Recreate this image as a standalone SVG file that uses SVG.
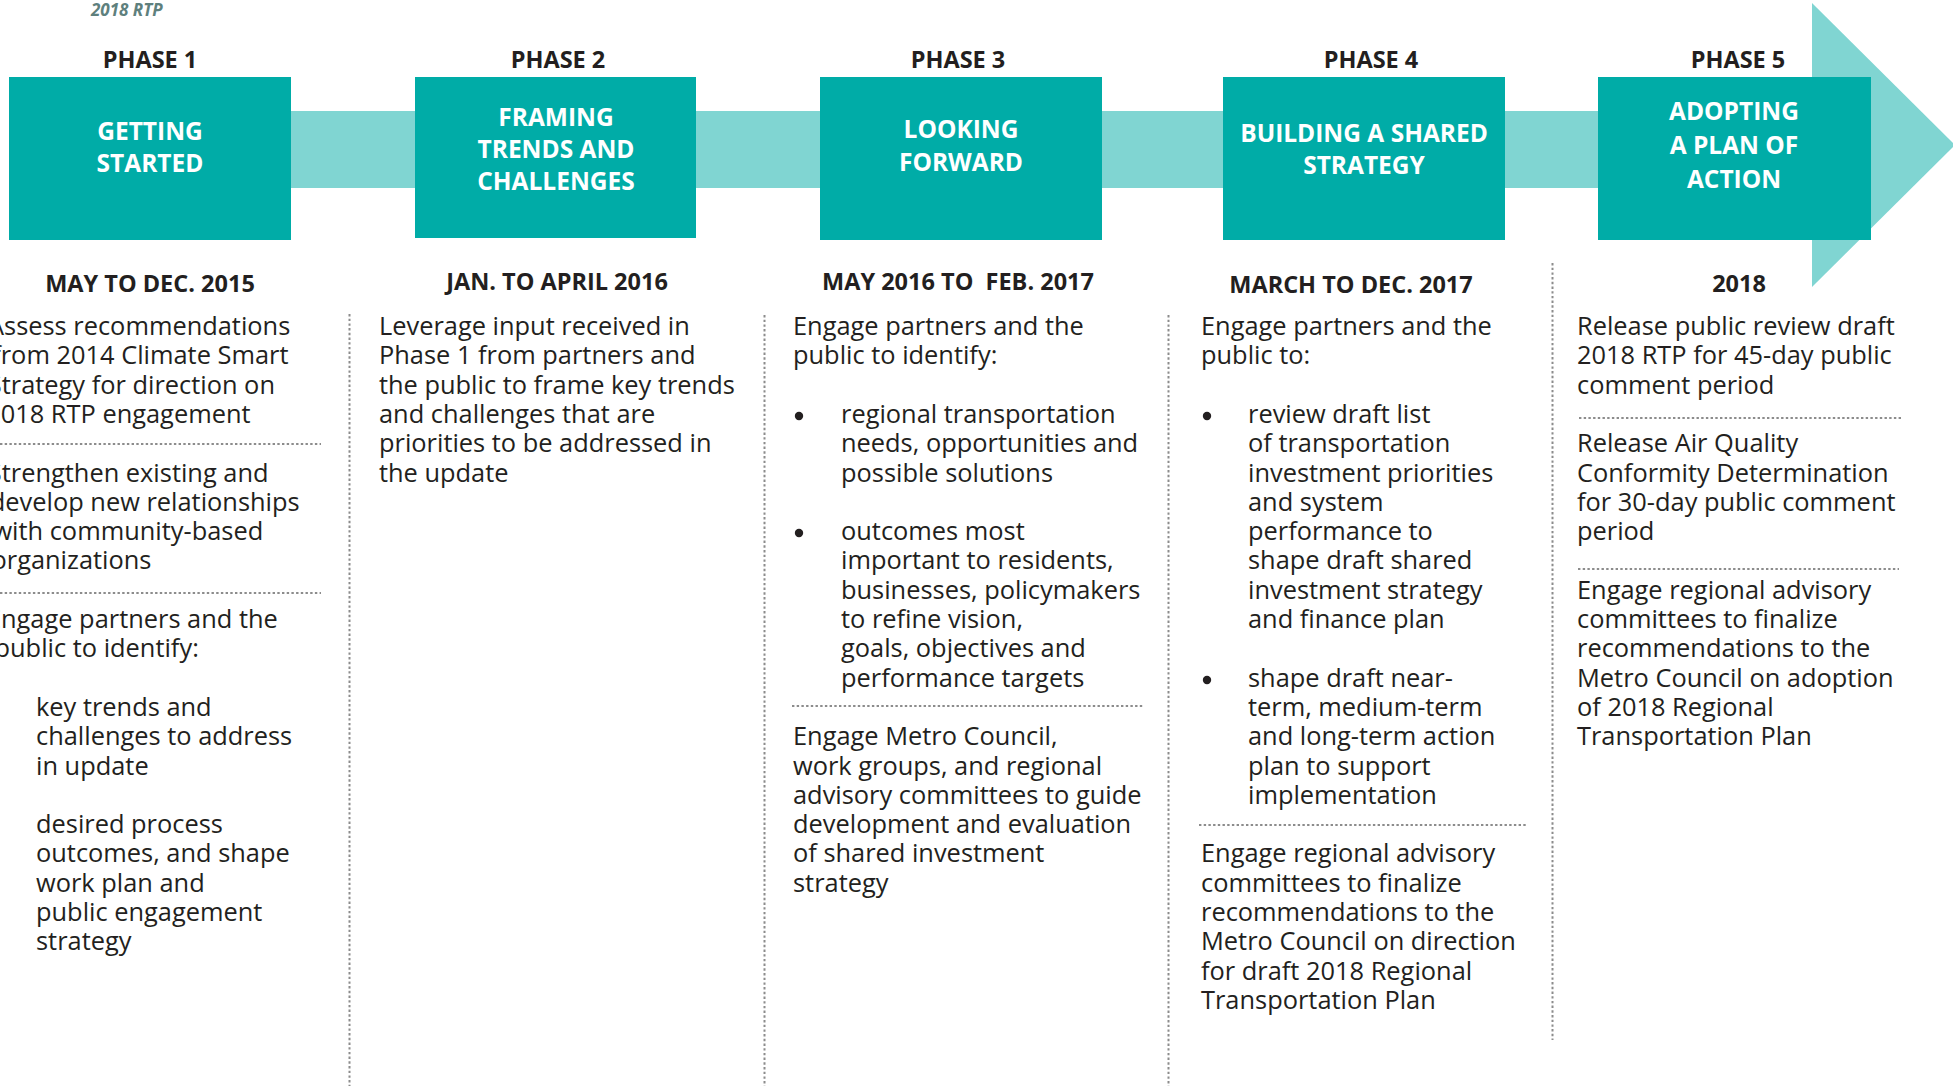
<svg xmlns="http://www.w3.org/2000/svg" width="1953" height="1086" viewBox="0 0 1953 1086">
<style>
.box{fill:#00aca7}
.band{fill:#80d5d2}
.ph{font-family:"Open Sans","Liberation Sans",sans-serif;font-weight:700;font-size:23.5px;fill:#231f20;text-anchor:middle}
.lbl{font-family:"Open Sans","Liberation Sans",sans-serif;font-weight:700;font-size:24.5px;fill:#ffffff;text-anchor:middle}
.dt{font-family:"Open Sans","Liberation Sans",sans-serif;font-weight:700;font-size:23.5px;fill:#231f20;text-anchor:middle;white-space:pre}
.tx{font-family:"Open Sans","Liberation Sans",sans-serif;font-size:25.4px;fill:#231f20}
.dot{stroke:#8c8c8c;stroke-width:2;stroke-dasharray:2.4 2.3;fill:none}
.bul{fill:#231f20}
.ttl{font-family:"Open Sans","Liberation Sans",sans-serif;font-weight:700;font-style:italic;font-size:17px;fill:#5e807d}
</style>
<rect width="1953" height="1086" fill="#ffffff"/>
<text class="ttl" x="91" y="16">2018 RTP</text>
<g id="connectors">
<rect class="band" x="280" y="111" width="1560" height="77"/>
<polygon class="band" points="1812,3 1955,145 1812,287"/>
</g>
<g id="separators">
<line class="dot" x1="349.5" y1="314" x2="349.5" y2="1086"/>
<line class="dot" x1="764.5" y1="315" x2="764.5" y2="1086"/>
<line class="dot" x1="1168.5" y1="315" x2="1168.5" y2="1086"/>
<line class="dot" x1="1552.5" y1="263" x2="1552.5" y2="1040"/>
<line class="dot" x1="0" y1="444" x2="321" y2="444"/>
<line class="dot" x1="0" y1="593" x2="321" y2="593"/>
<line class="dot" x1="792" y1="706" x2="1144" y2="706"/>
<line class="dot" x1="1199" y1="825" x2="1526" y2="825"/>
<line class="dot" x1="1579" y1="418" x2="1901" y2="418"/>
<line class="dot" x1="1578" y1="569" x2="1899" y2="569"/>
</g>
<g id="phase1">
<text class="ph" x="150" y="68">PHASE 1</text>
<rect class="box" x="9" y="77" width="282" height="163"/>
<text class="lbl" x="150" y="140">GETTING</text>
<text class="lbl" x="150" y="172">STARTED</text>
<text class="dt" x="150" y="292">MAY TO DEC. 2015</text>
<text class="tx">
<tspan x="-12" y="335">Assess recommendations</tspan>
<tspan x="-7.8" y="364.3">from 2014 Climate Smart</tspan>
<tspan x="-12.2" y="393.6">Strategy for direction on</tspan>
<tspan x="-13.8" y="422.9">2018 RTP engagement</tspan>
<tspan x="-12.2" y="481.5">Strengthen existing and</tspan>
<tspan x="-10.2" y="510.8">develop new relationships</tspan>
<tspan x="-7.6" y="540.1">with community-based</tspan>
<tspan x="-8.5" y="569.4">organizations</tspan>
<tspan x="-13.1" y="628">Engage partners and the</tspan>
<tspan x="-5.5" y="657.3">public to identify:</tspan>
<tspan x="36" y="715.9">key trends and</tspan>
<tspan x="36" y="745.2">challenges to address</tspan>
<tspan x="36" y="774.5">in update</tspan>
<tspan x="36" y="833.1">desired process</tspan>
<tspan x="36" y="862.4">outcomes, and shape</tspan>
<tspan x="36" y="891.7">work plan and</tspan>
<tspan x="36" y="921">public engagement</tspan>
<tspan x="36" y="950.3">strategy</tspan>
</text>
</g>
<g id="phase2">
<text class="ph" x="558" y="68">PHASE 2</text>
<rect class="box" x="415" y="77" width="281" height="161"/>
<text class="lbl" x="556" y="126">FRAMING</text>
<text class="lbl" x="556" y="158">TRENDS AND</text>
<text class="lbl" x="556" y="190">CHALLENGES</text>
<text class="dt" x="557" y="290">JAN. TO APRIL 2016</text>
<text class="tx">
<tspan x="379" y="335">Leverage input received in</tspan>
<tspan x="379" y="364.3">Phase 1 from partners and</tspan>
<tspan x="379" y="393.6">the public to frame key trends</tspan>
<tspan x="379" y="422.9">and challenges that are</tspan>
<tspan x="379" y="452.2">priorities to be addressed in</tspan>
<tspan x="379" y="481.5">the update</tspan>
</text>
</g>
<g id="phase3">
<text class="ph" x="958" y="68">PHASE 3</text>
<rect class="box" x="820" y="77" width="282" height="163"/>
<text class="lbl" x="961" y="138">LOOKING</text>
<text class="lbl" x="961" y="171">FORWARD</text>
<text class="dt" x="958" y="290" xml:space="preserve">MAY 2016 TO  FEB. 2017</text>
<circle class="bul" cx="799" cy="416" r="4.2"/>
<circle class="bul" cx="799" cy="533" r="4.2"/>
<text class="tx">
<tspan x="793" y="335">Engage partners and the</tspan>
<tspan x="793" y="364.3">public to identify:</tspan>
<tspan x="841" y="422.9">regional transportation</tspan>
<tspan x="841" y="452.2">needs, opportunities and</tspan>
<tspan x="841" y="481.5">possible solutions</tspan>
<tspan x="841" y="540.1">outcomes most</tspan>
<tspan x="841" y="569.4">important to residents,</tspan>
<tspan x="841" y="598.7">businesses, policymakers</tspan>
<tspan x="841" y="628">to refine vision,</tspan>
<tspan x="841" y="657.3">goals, objectives and</tspan>
<tspan x="841" y="686.6">performance targets</tspan>
<tspan x="793" y="745.2">Engage Metro Council,</tspan>
<tspan x="793" y="774.5">work groups, and regional</tspan>
<tspan x="793" y="803.8">advisory committees to guide</tspan>
<tspan x="793" y="833.1">development and evaluation</tspan>
<tspan x="793" y="862.4">of shared investment</tspan>
<tspan x="793" y="891.7">strategy</tspan>
</text>
</g>
<g id="phase4">
<text class="ph" x="1371" y="68">PHASE 4</text>
<rect class="box" x="1223" y="77" width="282" height="163"/>
<text class="lbl" x="1364" y="142">BUILDING A SHARED</text>
<text class="lbl" x="1364" y="174">STRATEGY</text>
<text class="dt" x="1351" y="293">MARCH TO DEC. 2017</text>
<circle class="bul" cx="1207" cy="416" r="4.2"/>
<circle class="bul" cx="1207" cy="680" r="4.2"/>
<text class="tx">
<tspan x="1201" y="335">Engage partners and the</tspan>
<tspan x="1201" y="364.3">public to:</tspan>
<tspan x="1248" y="422.9">review draft list</tspan>
<tspan x="1248" y="452.2">of transportation</tspan>
<tspan x="1248" y="481.5">investment priorities</tspan>
<tspan x="1248" y="510.8">and system</tspan>
<tspan x="1248" y="540.1">performance to</tspan>
<tspan x="1248" y="569.4">shape draft shared</tspan>
<tspan x="1248" y="598.7">investment strategy</tspan>
<tspan x="1248" y="628">and finance plan</tspan>
<tspan x="1248" y="686.6">shape draft near-</tspan>
<tspan x="1248" y="715.9">term, medium-term</tspan>
<tspan x="1248" y="745.2">and long-term action</tspan>
<tspan x="1248" y="774.5">plan to support</tspan>
<tspan x="1248" y="803.8">implementation</tspan>
<tspan x="1201" y="862.4">Engage regional advisory</tspan>
<tspan x="1201" y="891.7">committees to finalize</tspan>
<tspan x="1201" y="921">recommendations to the</tspan>
<tspan x="1201" y="950.3">Metro Council on direction</tspan>
<tspan x="1201" y="979.6">for draft 2018 Regional</tspan>
<tspan x="1201" y="1008.9">Transportation Plan</tspan>
</text>
</g>
<g id="phase5">
<text class="ph" x="1738" y="68">PHASE 5</text>
<rect class="box" x="1598" y="77" width="273" height="163"/>
<text class="lbl" x="1734" y="120">ADOPTING</text>
<text class="lbl" x="1734" y="154">A PLAN OF</text>
<text class="lbl" x="1734" y="188">ACTION</text>
<text class="dt" x="1739" y="292">2018</text>
<text class="tx">
<tspan x="1577" y="335">Release public review draft</tspan>
<tspan x="1577" y="364.3">2018 RTP for 45-day public</tspan>
<tspan x="1577" y="393.6">comment period</tspan>
<tspan x="1577" y="452.2">Release Air Quality</tspan>
<tspan x="1577" y="481.5">Conformity Determination</tspan>
<tspan x="1577" y="510.8">for 30-day public comment</tspan>
<tspan x="1577" y="540.1">period</tspan>
<tspan x="1577" y="598.7">Engage regional advisory</tspan>
<tspan x="1577" y="628">committees to finalize</tspan>
<tspan x="1577" y="657.3">recommendations to the</tspan>
<tspan x="1577" y="686.6">Metro Council on adoption</tspan>
<tspan x="1577" y="715.9">of 2018 Regional</tspan>
<tspan x="1577" y="745.2">Transportation Plan</tspan>
</text>
</g>
</svg>
